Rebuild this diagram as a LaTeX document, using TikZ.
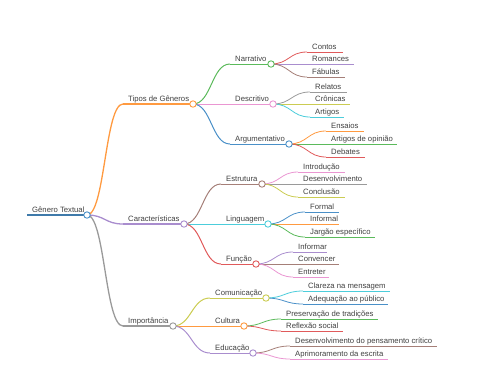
\documentclass[tikz,border=0pt]{standalone}
\usepackage{fontspec}
\setmainfont{Liberation Sans}
\usetikzlibrary{calc}
\definecolor{cblue}{HTML}{4A90C8}
\definecolor{corange}{HTML}{FF9A40}
\definecolor{cgreen}{HTML}{5BBA5B}
\definecolor{cred}{HTML}{E05A5B}
\definecolor{cpurple}{HTML}{A98DCE}
\definecolor{cbrown}{HTML}{A57F78}
\definecolor{cpink}{HTML}{EA96D2}
\definecolor{cgrey}{HTML}{9A9A9A}
\definecolor{colive}{HTML}{CBCC52}
\definecolor{ccyan}{HTML}{4CCDDB}
\definecolor{txt}{HTML}{404040}
\tikzset{
  lbl/.style={inner sep=0pt, text=txt, font=\fontsize{7.7}{9}\selectfont, anchor=base west},
  dot/.style={circle, fill=white, line width=0.9pt, minimum size=6.4pt, inner sep=0pt},
  mlink/.style={to path={let \p1=(\tikztostart), \p2=(\tikztotarget) in
     .. controls ({(\x1+\x2)/2},\y1) and ({(\x1+\x2)/2},\y2) .. (\tikztotarget)}},
}
% name, colour, x start, x end, y, text, width
\newcommand\mmnode[7]{%
  \coordinate (#1-s) at (#3,#5);
  \coordinate (#1-e) at (#4,#5);
  \draw[#2, line width=#7] (#1-s) -- (#1-e);
  \node[lbl] (#1) at ({#3+5},{#5-2.4}) {#6};
}
% parent, child, colour, width
\newcommand\mmlink[4]{\draw[#3, line width=#4, mlink] (#1-e) to (#2-s);}
\newcommand\mmdot[2]{\node[dot, draw=#2] (#1-c) at (#1-e) {};}
\begin{document}
\begin{tikzpicture}[x=1pt, y=-1pt]
\useasboundingbox (0,0) rectangle (480,384);
% root
\mmnode{gt}{cblue!85!black}{27}{87}{215}{Gênero Textual}{1.8pt}
% level 1
\mmnode{tipos}{corange}{123}{193}{104}{Tipos de Gêneros}{1.3pt}
\mmnode{carac}{cpurple}{123}{184}{224}{Características}{1.3pt}
\mmnode{impo}{cgrey}{123}{173}{326}{Importância}{1.3pt}
% level 2
\mmnode{narr}{cgreen}{230}{271}{64}{Narrativo}{1pt}
\mmnode{desc}{cpink}{230}{273}{104}{Descritivo}{1pt}
\mmnode{argu}{cblue}{230}{289}{144}{Argumentativo}{1pt}
\mmnode{estr}{cbrown}{221}{262}{184}{Estrutura}{1pt}
\mmnode{ling}{ccyan}{221}{268}{224}{Linguagem}{1pt}
\mmnode{func}{cred}{221}{256}{264}{Função}{1pt}
\mmnode{comu}{colive}{210}{266}{298}{Comunicação}{1pt}
\mmnode{cult}{corange}{210}{244}{326}{Cultura}{1pt}
\mmnode{educ}{cpurple}{210}{253}{353}{Educação}{1pt}
% level 3
\mmnode{contos}{cred}{307}{343}{52}{Contos}{0.8pt}
\mmnode{roman}{cpurple}{307}{354}{64}{Romances}{0.8pt}
\mmnode{fabul}{cbrown}{307}{345}{77}{Fábulas}{0.8pt}
\mmnode{relat}{cgrey}{310}{347}{92}{Relatos}{0.8pt}
\mmnode{cron}{colive}{310}{350}{104}{Crônicas}{0.8pt}
\mmnode{artig}{ccyan}{310}{344}{117}{Artigos}{0.8pt}
\mmnode{ensai}{corange}{326}{364}{131}{Ensaios}{0.8pt}
\mmnode{artop}{cgreen}{326}{397}{144}{Artigos de opinião}{0.8pt}
\mmnode{debat}{cred}{326}{365}{157}{Debates}{0.8pt}
\mmnode{intro}{cpink}{298}{345}{172}{Introdução}{0.8pt}
\mmnode{desen}{cgrey}{298}{367}{184}{Desenvolvimento}{0.8pt}
\mmnode{concl}{colive}{298}{345}{197}{Conclusão}{0.8pt}
\mmnode{formal}{cblue}{305}{339}{212}{Formal}{0.8pt}
\mmnode{informal}{corange}{305}{339}{224}{Informal}{0.8pt}
\mmnode{jargao}{cgreen}{305}{375}{237}{Jargão específico}{0.8pt}
\mmnode{informar}{cpurple}{293}{327}{252}{Informar}{0.8pt}
\mmnode{convencer}{cbrown}{293}{339}{264}{Convencer}{0.8pt}
\mmnode{entreter}{cpink}{293}{329}{277}{Entreter}{0.8pt}
\mmnode{clareza}{ccyan}{303}{390}{291}{Clareza na mensagem}{0.8pt}
\mmnode{adequ}{cblue}{303}{388}{304}{Adequação ao público}{0.8pt}
\mmnode{preserv}{cgreen}{281}{378}{319}{Preservação de tradições}{0.8pt}
\mmnode{reflex}{cred}{281}{343}{331}{Reflexão social}{0.8pt}
\mmnode{desenvp}{cbrown}{290}{437}{346}{Desenvolvimento do pensamento crítico}{0.8pt}
\mmnode{aprim}{cpink}{290}{388}{359}{Aprimoramento da escrita}{0.8pt}
% links
\mmlink{gt}{tipos}{corange}{1.3pt}
\mmlink{gt}{carac}{cpurple}{1.3pt}
\mmlink{gt}{impo}{cgrey}{1.3pt}
\mmlink{tipos}{narr}{cgreen}{1pt}
\mmlink{tipos}{desc}{cpink}{1pt}
\mmlink{tipos}{argu}{cblue}{1pt}
\mmlink{carac}{estr}{cbrown}{1pt}
\mmlink{carac}{ling}{ccyan}{1pt}
\mmlink{carac}{func}{cred}{1pt}
\mmlink{impo}{comu}{colive}{1pt}
\mmlink{impo}{cult}{corange}{1pt}
\mmlink{impo}{educ}{cpurple}{1pt}
\mmlink{narr}{contos}{cred}{0.8pt}
\mmlink{narr}{roman}{cpurple}{0.8pt}
\mmlink{narr}{fabul}{cbrown}{0.8pt}
\mmlink{desc}{relat}{cgrey}{0.8pt}
\mmlink{desc}{cron}{colive}{0.8pt}
\mmlink{desc}{artig}{ccyan}{0.8pt}
\mmlink{argu}{ensai}{corange}{0.8pt}
\mmlink{argu}{artop}{cgreen}{0.8pt}
\mmlink{argu}{debat}{cred}{0.8pt}
\mmlink{estr}{intro}{cpink}{0.8pt}
\mmlink{estr}{desen}{cgrey}{0.8pt}
\mmlink{estr}{concl}{colive}{0.8pt}
\mmlink{ling}{formal}{cblue}{0.8pt}
\mmlink{ling}{informal}{corange}{0.8pt}
\mmlink{ling}{jargao}{cgreen}{0.8pt}
\mmlink{func}{informar}{cpurple}{0.8pt}
\mmlink{func}{convencer}{cbrown}{0.8pt}
\mmlink{func}{entreter}{cpink}{0.8pt}
\mmlink{comu}{clareza}{ccyan}{0.8pt}
\mmlink{comu}{adequ}{cblue}{0.8pt}
\mmlink{cult}{preserv}{cgreen}{0.8pt}
\mmlink{cult}{reflex}{cred}{0.8pt}
\mmlink{educ}{desenvp}{cbrown}{0.8pt}
\mmlink{educ}{aprim}{cpink}{0.8pt}
% circles
\mmdot{gt}{cblue}
\mmdot{tipos}{corange}
\mmdot{carac}{cpurple}
\mmdot{impo}{cgrey}
\mmdot{narr}{cgreen}
\mmdot{desc}{cpink}
\mmdot{argu}{cblue}
\mmdot{estr}{cbrown}
\mmdot{ling}{ccyan}
\mmdot{func}{cred}
\mmdot{comu}{colive}
\mmdot{cult}{corange}
\mmdot{educ}{cpurple}
\end{tikzpicture}
\end{document}
